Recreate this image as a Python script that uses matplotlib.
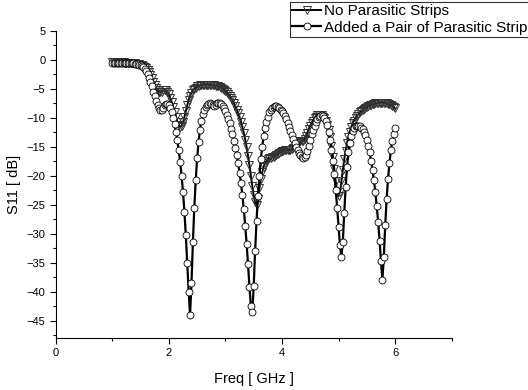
import matplotlib
matplotlib.use("Agg")
import matplotlib.pyplot as plt
from matplotlib.ticker import MultipleLocator

plt.rcParams["font.family"] = ["Liberation Sans", "DejaVu Sans"]

# frequency grid (GHz), 0.025 step, 1.0 .. 6.0
freq = [round(1.0 + 0.025 * i, 3) for i in range(201)]

no_strips = [
    -0.4, -0.4, -0.4, -0.4, -0.4, -0.4, -0.45, -0.45,
    -0.45, -0.5, -0.5, -0.5, -0.55, -0.55, -0.6, -0.6,
    -0.65, -0.7, -0.75, -0.8, -0.9, -1.0, -1.1, -1.3,
    -1.5, -1.8, -2.2, -2.7, -3.2, -3.8, -4.3, -4.8,
    -5.2, -5.5, -5.6, -5.5, -5.3, -5.2, -5.3, -5.6,
    -6.0, -6.6, -7.3, -8.1, -9.0, -9.9, -10.7, -11.3,
    -11.6, -11.4, -10.8, -9.9, -8.9, -7.9, -7.0, -6.3,
    -5.7, -5.3, -5.0, -4.8, -4.6, -4.5, -4.4, -4.3,
    -4.3, -4.3, -4.3, -4.3, -4.3, -4.3, -4.4, -4.4,
    -4.4, -4.5, -4.5, -4.6, -4.7, -4.8, -5.0, -5.2,
    -5.4, -5.6, -5.9, -6.2, -6.6, -7.0, -7.5, -8.0,
    -8.6, -9.2, -9.9, -10.7, -11.6, -12.6, -13.8, -15.1,
    -16.6, -18.2, -20.0, -21.8, -23.4, -24.6, -25.0, -24.0,
    -22.2, -20.6, -19.4, -18.5, -17.9, -17.5, -17.2, -17.0,
    -16.9, -16.8, -16.7, -16.6, -16.5, -16.3, -16.1, -15.9,
    -15.8, -15.7, -15.6, -15.6, -15.6, -15.6, -15.5, -15.4,
    -15.2, -15.0, -14.7, -14.4, -14.2, -14.1, -14.1, -14.0,
    -13.7, -13.2, -12.6, -12.0, -11.4, -10.9, -10.5, -10.1,
    -9.8, -9.6, -9.5, -9.5, -9.6, -9.8, -10.1, -10.6,
    -11.3, -12.2, -13.4, -14.9, -16.7, -18.8, -21.0, -22.8,
    -23.5, -22.8, -21.0, -19.0, -17.2, -15.7, -14.4, -13.3,
    -12.4, -11.6, -11.0, -10.5, -10.1, -9.7, -9.4, -9.1,
    -8.9, -8.7, -8.5, -8.3, -8.2, -8.0, -7.9, -7.8,
    -7.7, -7.6, -7.5, -7.5, -7.4, -7.4, -7.4, -7.4,
    -7.4, -7.5, -7.5, -7.6, -7.7, -7.8, -8.0, -8.2,
    -8.4,
]

with_strips = [
    -0.5, -0.5, -0.5, -0.5, -0.5, -0.5, -0.5, -0.5,
    -0.5, -0.5, -0.55, -0.55, -0.6, -0.6, -0.6, -0.65,
    -0.7, -0.7, -0.8, -0.9, -1.0, -1.1, -1.3, -1.6,
    -2.0, -2.5, -3.1, -3.8, -4.6, -5.5, -6.3, -7.1,
    -7.8, -8.3, -8.6, -8.7, -8.4, -7.9, -7.6, -7.6,
    -7.9, -8.4, -9.1, -10.0, -11.1, -12.4, -13.9, -15.6,
    -17.6, -20.0, -22.8, -26.2, -30.3, -35.0, -40.0, -44.0,
    -38.5, -31.5, -25.5, -20.8, -17.0, -14.2, -12.1, -10.5,
    -9.4, -8.6, -8.1, -7.8, -7.6, -7.5, -7.6, -7.8,
    -8.0, -7.8, -7.5, -7.4, -7.5, -7.7, -8.0, -8.4,
    -8.9, -9.5, -10.2, -11.0, -11.9, -12.9, -14.0, -15.2,
    -16.5, -17.9, -19.5, -21.3, -23.4, -25.8, -28.6, -31.8,
    -35.3, -39.2, -42.5, -43.6, -39.0, -33.0, -27.8, -23.5,
    -20.0, -17.2, -15.0, -13.2, -11.8, -10.7, -9.8, -9.1,
    -8.6, -8.3, -8.1, -8.0, -8.0, -8.1, -8.3, -8.6,
    -8.8, -9.2, -9.7, -10.3, -10.9, -11.6, -12.3, -13.0,
    -13.7, -14.4, -15.0, -15.6, -16.1, -16.5, -16.8, -16.9,
    -16.8, -16.4, -15.7, -14.8, -13.8, -12.9, -12.1, -11.4,
    -10.8, -10.3, -9.9, -9.7, -9.6, -9.7, -10.0, -10.5,
    -11.3, -12.4, -13.8, -15.5, -17.5, -19.8, -22.5, -25.5,
    -28.8, -32.0, -34.0, -31.5, -26.5, -22.0, -18.5, -16.0,
    -14.3, -13.1, -12.3, -11.8, -11.5, -11.4, -11.4, -11.5,
    -11.7, -12.0, -12.4, -13.0, -13.8, -14.8, -16.0, -17.4,
    -19.0, -20.8, -22.9, -25.3, -28.0, -31.2, -34.8, -38.0,
    -34.0, -28.5, -24.0, -20.5, -17.8, -15.6, -14.0, -12.8,
    -11.8,
]

labels = ["No Parasitic Strips", "Added a Pair of Parasitic Strip"]

fig = plt.figure(figsize=(5.28, 3.9), dpi=100)
ax = fig.add_axes([0.1055, 0.1333, 0.75, 0.788])

ax.plot(freq, no_strips, color="black", lw=1.4, marker="v", ms=6,
        mfc="none", mec="0.2", mew=0.7, label=labels[0], zorder=2)
ax.plot(freq, with_strips, color="black", lw=1.6, marker="o", ms=5,
        mfc="white", mec="black", mew=0.6, label=labels[1], zorder=3)

ax.set_xlim(0, 7)
ax.set_ylim(-48, 5)
ax.xaxis.set_major_locator(MultipleLocator(2))
ax.xaxis.set_minor_locator(MultipleLocator(1))
ax.yaxis.set_major_locator(MultipleLocator(5))
ax.yaxis.set_minor_locator(MultipleLocator(2.5))
ax.tick_params(which="major", direction="out", length=4, width=0.8, labelsize=8)
ax.tick_params(which="minor", direction="out", length=2.5, width=0.8)
ax.spines["top"].set_visible(False)
ax.spines["right"].set_visible(False)

ax.set_xlabel("Freq [ GHz ]", fontsize=10.5, labelpad=10)
ax.set_ylabel("S11 [ dB]", fontsize=10.5, labelpad=4)

leg = fig.legend(loc="upper left", bbox_to_anchor=(0.549, 0.995), fontsize=11,
                 frameon=True, fancybox=False, borderpad=0.15, labelspacing=0.15,
                 handlelength=1.9, handletextpad=0.2, borderaxespad=0)
leg.get_frame().set_edgecolor("black")
leg.get_frame().set_linewidth(0.8)

fig.savefig("out.png", dpi=100)
